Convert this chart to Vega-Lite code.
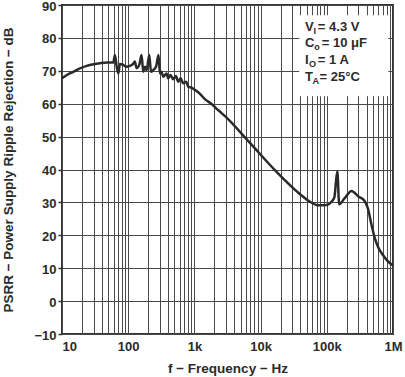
{
  "$schema": "https://vega.github.io/schema/vega-lite/v6.json",
  "width": 331,
  "height": 329,
  "autosize": {"type": "none"},
  "padding": {"left": 62, "top": 5, "right": 12, "bottom": 43},
  "background": "white",
  "config": {
    "font": "Liberation Sans",
    "view": {"stroke": "#333333", "strokeWidth": 2},
    "axis": {
      "labelFont": "Liberation Sans",
      "labelFontWeight": "bold",
      "labelFontSize": 13,
      "labelColor": "#2b2b2b",
      "titleFont": "Liberation Sans",
      "titleFontWeight": "bold",
      "titleFontSize": 13.5,
      "titleColor": "#2b2b2b",
      "domain": false,
      "gridColor": "#4a4a4a",
      "gridWidth": 1,
      "gridOpacity": 1,
      "labelOverlap": false
    }
  },
  "layer": [
    {
      "data": {"values": [
        {"f": 10, "db": 67.7}, {"f": 12, "db": 68.8}, {"f": 14.8, "db": 69.7}, {"f": 18, "db": 70.6},
        {"f": 23.6, "db": 71.5}, {"f": 30, "db": 72.0}, {"f": 37.5, "db": 72.3}, {"f": 48, "db": 72.5},
        {"f": 59.6, "db": 72.5}, {"f": 63, "db": 74.8}, {"f": 67, "db": 71.2}, {"f": 71, "db": 69.2},
        {"f": 75, "db": 72.1}, {"f": 84, "db": 71.8}, {"f": 95, "db": 71.2}, {"f": 106, "db": 71.5},
        {"f": 119, "db": 72.1}, {"f": 126, "db": 72.8}, {"f": 134, "db": 70.8}, {"f": 147, "db": 71.8},
        {"f": 159, "db": 74.8}, {"f": 169, "db": 69.7}, {"f": 179, "db": 71.2}, {"f": 190, "db": 70.2},
        {"f": 208, "db": 74.8}, {"f": 221, "db": 69.7}, {"f": 239, "db": 70.2}, {"f": 263, "db": 71.2},
        {"f": 287, "db": 74.8}, {"f": 301, "db": 69.2}, {"f": 318, "db": 69.7}, {"f": 338, "db": 68.2},
        {"f": 381, "db": 69.2}, {"f": 402, "db": 67.7}, {"f": 436, "db": 68.7}, {"f": 479, "db": 67.4},
        {"f": 526, "db": 68.4}, {"f": 570, "db": 66.7}, {"f": 620, "db": 67.7}, {"f": 677, "db": 66.2},
        {"f": 748, "db": 66.7}, {"f": 808, "db": 65.2}, {"f": 906, "db": 64.9}, {"f": 1015, "db": 64.2},
        {"f": 1212, "db": 63.0}, {"f": 1440, "db": 61.4}, {"f": 1820, "db": 59.9}, {"f": 2300, "db": 58.0},
        {"f": 2900, "db": 56.2}, {"f": 6960, "db": 48.0}, {"f": 17400, "db": 39.3}, {"f": 39500, "db": 32.5},
        {"f": 55800, "db": 30.2}, {"f": 75000, "db": 29.1}, {"f": 100000, "db": 29.2}, {"f": 118000, "db": 30.2},
        {"f": 130000, "db": 31.5}, {"f": 144000, "db": 39.5}, {"f": 154000, "db": 29.4}, {"f": 185000, "db": 31.2},
        {"f": 237000, "db": 33.5}, {"f": 300000, "db": 31.8}, {"f": 370000, "db": 30.5}, {"f": 420000, "db": 28.0},
        {"f": 470000, "db": 23.5}, {"f": 530000, "db": 19.2}, {"f": 600000, "db": 16.3}, {"f": 700000, "db": 14.1},
        {"f": 820000, "db": 12.3}, {"f": 1000000, "db": 10.8}
      ]},
      "mark": {"type": "line", "color": "#2a2a2a", "strokeWidth": 2.5, "interpolate": "monotone"},
      "encoding": {
        "x": {
          "field": "f", "type": "quantitative",
          "scale": {"type": "log", "domain": [10, 1000000], "nice": false},
          "axis": {
            "title": "f − Frequency − Hz",
            "values": [10,20,30,40,50,60,70,80,90,100,200,300,400,500,600,700,800,900,1000,2000,3000,4000,5000,6000,7000,8000,9000,10000,20000,30000,40000,50000,60000,70000,80000,90000,100000,200000,300000,400000,500000,600000,700000,800000,900000,1000000],
            "labelExpr": "datum.value == 10 ? '10' : datum.value == 100 ? '100' : datum.value == 1000 ? '1k' : datum.value == 10000 ? '10k' : datum.value == 100000 ? '100k' : datum.value == 1000000 ? '1M' : ''",
            "labelFlush": false,
            "labelOverlap": false,
            "labelBound": false,
            "labelAlign": {"condition": {"test": "datum.value <= 10", "value": "left"}, "value": "center"},
            "ticks": false,
            "labelPadding": 6,
            "titlePadding": 8,
            "grid": true
          }
        },
        "y": {
          "field": "db", "type": "quantitative",
          "scale": {"domain": [-10, 90], "nice": false, "zero": false},
          "axis": {
            "title": "PSRR − Power Supply Ripple Rejection − dB",
            "values": [-10, 0, 10, 20, 30, 40, 50, 60, 70, 80, 90],
            "tickCount": 11,
            "ticks": true,
            "tickSize": 4,
            "tickColor": "#333333",
            "tickWidth": 1.5,
            "labelPadding": 2,
            "labelOffset": 1,
            "labelOverlap": false,
            "labelBound": false,
            "labelFlush": false,
            "titlePadding": 18,
            "grid": true
          }
        }
      }
    },
    {
      "data": {"values": [{}]},
      "mark": {"type": "rect", "color": "white"},
      "encoding": {
        "x": {"datum": 38400, "type": "quantitative"},
        "x2": {"datum": 849000},
        "y": {"datum": 86.9, "type": "quantitative", "axis": {"title": "PSRR − Power Supply Ripple Rejection − dB", "values": [-10, 0, 10, 20, 30, 40, 50, 60, 70, 80, 90], "tickCount": 11, "labelOverlap": false, "labelFlush": false, "labelBound": false}},
        "y2": {"datum": 62.3}
      }
    },
    {
      "data": {"values": [
        {"main": "V", "sub": "I", "rest": "= 4.3 V", "row": "a"},
        {"main": "C", "sub": "o", "rest": "= 10 μF", "row": "b"},
        {"main": "I", "sub": "O", "rest": "= 1 A", "row": "c"},
        {"main": "T", "sub": "A", "rest": "= 25°C", "row": "d"}
      ]},
      "layer": [
        {
          "transform": [{"filter": "datum.row == 'a'"}],
          "encoding": {"x": {"datum": 46900, "type": "quantitative"}, "y": {"datum": 82.2, "type": "quantitative", "axis": {"title": "PSRR − Power Supply Ripple Rejection − dB", "values": [-10, 0, 10, 20, 30, 40, 50, 60, 70, 80, 90], "tickCount": 11, "labelOverlap": false, "labelFlush": false, "labelBound": false}}},
          "layer": [
            {"mark": {"type": "text", "align": "left", "baseline": "alphabetic", "fontSize": 13, "fontWeight": "bold", "color": "#2b2b2b"}, "encoding": {"text": {"field": "main"}}},
            {"mark": {"type": "text", "align": "left", "baseline": "alphabetic", "fontSize": 9, "fontWeight": "bold", "color": "#2b2b2b", "dx": 8.5, "dy": 3}, "encoding": {"text": {"field": "sub"}}},
            {"mark": {"type": "text", "align": "left", "baseline": "alphabetic", "fontSize": 13, "fontWeight": "bold", "color": "#2b2b2b", "dx": 12.8}, "encoding": {"text": {"field": "rest"}}}
          ]
        },
        {
          "transform": [{"filter": "datum.row == 'b'"}],
          "encoding": {"x": {"datum": 46900, "type": "quantitative"}, "y": {"datum": 77.1, "type": "quantitative", "axis": {"title": "PSRR − Power Supply Ripple Rejection − dB", "values": [-10, 0, 10, 20, 30, 40, 50, 60, 70, 80, 90], "tickCount": 11, "labelOverlap": false, "labelFlush": false, "labelBound": false}}},
          "layer": [
            {"mark": {"type": "text", "align": "left", "baseline": "alphabetic", "fontSize": 13, "fontWeight": "bold", "color": "#2b2b2b"}, "encoding": {"text": {"field": "main"}}},
            {"mark": {"type": "text", "align": "left", "baseline": "alphabetic", "fontSize": 9, "fontWeight": "bold", "color": "#2b2b2b", "dx": 9.2, "dy": 3}, "encoding": {"text": {"field": "sub"}}},
            {"mark": {"type": "text", "align": "left", "baseline": "alphabetic", "fontSize": 13, "fontWeight": "bold", "color": "#2b2b2b", "dx": 16.7}, "encoding": {"text": {"field": "rest"}}}
          ]
        },
        {
          "transform": [{"filter": "datum.row == 'c'"}],
          "encoding": {"x": {"datum": 46900, "type": "quantitative"}, "y": {"datum": 72.0, "type": "quantitative", "axis": {"title": "PSRR − Power Supply Ripple Rejection − dB", "values": [-10, 0, 10, 20, 30, 40, 50, 60, 70, 80, 90], "tickCount": 11, "labelOverlap": false, "labelFlush": false, "labelBound": false}}},
          "layer": [
            {"mark": {"type": "text", "align": "left", "baseline": "alphabetic", "fontSize": 13, "fontWeight": "bold", "color": "#2b2b2b"}, "encoding": {"text": {"field": "main"}}},
            {"mark": {"type": "text", "align": "left", "baseline": "alphabetic", "fontSize": 9, "fontWeight": "bold", "color": "#2b2b2b", "dx": 4, "dy": 3}, "encoding": {"text": {"field": "sub"}}},
            {"mark": {"type": "text", "align": "left", "baseline": "alphabetic", "fontSize": 13, "fontWeight": "bold", "color": "#2b2b2b", "dx": 12.8}, "encoding": {"text": {"field": "rest"}}}
          ]
        },
        {
          "transform": [{"filter": "datum.row == 'd'"}],
          "encoding": {"x": {"datum": 46900, "type": "quantitative"}, "y": {"datum": 66.9, "type": "quantitative", "axis": {"title": "PSRR − Power Supply Ripple Rejection − dB", "values": [-10, 0, 10, 20, 30, 40, 50, 60, 70, 80, 90], "tickCount": 11, "labelOverlap": false, "labelFlush": false, "labelBound": false}}},
          "layer": [
            {"mark": {"type": "text", "align": "left", "baseline": "alphabetic", "fontSize": 13, "fontWeight": "bold", "color": "#2b2b2b"}, "encoding": {"text": {"field": "main"}}},
            {"mark": {"type": "text", "align": "left", "baseline": "alphabetic", "fontSize": 9, "fontWeight": "bold", "color": "#2b2b2b", "dx": 7.5, "dy": 3}, "encoding": {"text": {"field": "sub"}}},
            {"mark": {"type": "text", "align": "left", "baseline": "alphabetic", "fontSize": 13, "fontWeight": "bold", "color": "#2b2b2b", "dx": 14.5}, "encoding": {"text": {"field": "rest"}}}
          ]
        }
      ]
    }
  ]
}
